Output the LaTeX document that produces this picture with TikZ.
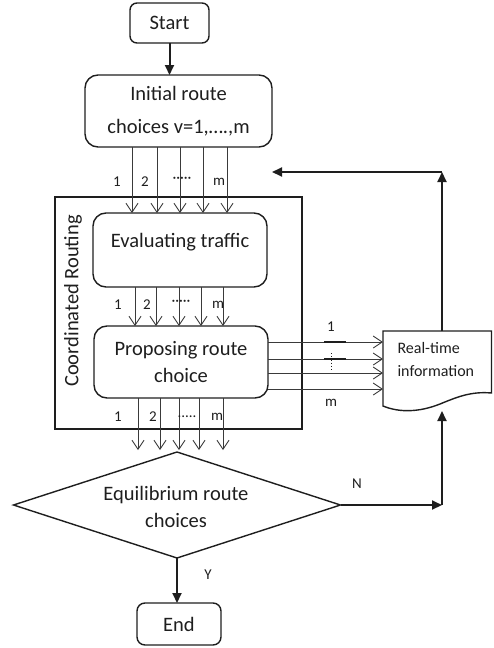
\documentclass[tikz,border=0pt]{standalone}
\usepackage{fontspec}
\setmainfont{Carlito}
\usetikzlibrary{arrows.meta,shapes.geometric,calc}
\definecolor{ink}{HTML}{1E1E1E}
\definecolor{wire}{HTML}{3A3A3A}
\begin{document}
\begin{tikzpicture}[x=1pt,y=-1pt,
  box/.style={draw=ink, line width=1.4pt, rounded corners=13pt, inner sep=0pt, outer sep=0pt},
  bigtxt/.style={font=\fontsize{20.5}{27}\selectfont, text=ink, align=center},
  lbl/.style={font=\fontsize{15}{18}\selectfont, text=ink, inner sep=0pt},
  flow/.style={draw=ink, line width=2pt, -{Triangle[length=10pt,width=9pt]}},
  route/.style={draw=wire, line width=0.9pt, -{Straight Barb[length=9pt,width=12pt]}}]
\useasboundingbox (0,0) rectangle (493,648);

% process boxes
\node[box, rounded corners=7pt, minimum width=79pt, minimum height=40pt, bigtxt] (start) at (169.5,23) {Start};
\node[box, minimum width=187pt, minimum height=72pt, bigtxt] (init) at (178.5,111) {Initial route\\[6pt]choices v=1,….,m};
\node[draw=ink, line width=1.4pt, minimum width=247pt, minimum height=232pt, inner sep=0pt, outer sep=0pt] (coord) at (178.5,313) {};
\node[bigtxt, rotate=90] (coordtxt) at (73,301) {Coordinated Routing};
\node[box, minimum width=174pt, minimum height=74pt] (eval) at (180,250) {};
\node[bigtxt] (evaltxt) at (180,242) {Evaluating traffic};
\node[box, minimum width=174pt, minimum height=72pt, bigtxt] (prop) at (181,362) {Proposing route\\choice};
\node[diamond, draw=ink, line width=1.4pt, minimum width=327pt, minimum height=106pt, inner sep=0pt, outer sep=0pt] (dec) at (177,505) {};
\node[bigtxt] (dectxt) at (176,507) {Equilibrium route\\choices};
\node[box, rounded corners=8pt, minimum width=84pt, minimum height=42pt, bigtxt] (end) at (179,624) {End};

% document shape
\draw[draw=ink, line width=1.4pt] (383,331) coordinate (docnw) -- (491.5,331) -- (491.5,393)
  .. controls (470,391) and (455,398) .. (440,404)
  .. controls (420,412) and (400,413) .. (383,406) -- cycle;
\node[font=\fontsize{16}{23}\selectfont, text=ink, align=left, anchor=west] (doc) at (394,359.5) {Real-time\\information};

% main flow
\draw[flow] (start.south) -- (start.south |- init.north);
\draw[flow] (dec.south) -- (dec.south |- end.north);

% route channels: initial -> evaluating
\foreach \x in {132,157,180,203,227}
  \draw[route] (init.south -| \x,0) -- (eval.north -| \x,0);
\node[lbl] (a1) at (117,182) {1};
\node[lbl] (a2) at (145,182) {2};
\node[lbl] (a3) at (182,180) {·····};
\node[lbl] (am) at (219,182) {m};

% evaluating -> proposing
\foreach \x in {135,156,179,201,223}
  \draw[route] (eval.south -| \x,0) -- (prop.north -| \x,0);
\node[lbl] (b1) at (118,305) {1};
\node[lbl] (b2) at (147,305) {2};
\node[lbl] (b3) at (181,303) {·····};
\node[lbl] (bm) at (218,305) {m};

% proposing -> decision
\coordinate (dtop) at (0,450);
\foreach \x in {138,160,179,199,223}
  \draw[route] (prop.south -| \x,0) -- (dtop -| \x,0);
\node[lbl] (c1l) at (118,417) {1};
\node[lbl] (c2l) at (153,417) {2};
\node[lbl] (c3l) at (187,417) {.....};
\node[lbl] (cml) at (217,417) {m};

% proposing -> real-time information
\foreach \y in {342,359,373,389}
  \draw[route] (prop.east |- 0,\y) -- (docnw |- 0,\y);
\draw[ink, line width=2pt] (324,342) -- (346,342);
\draw[ink, line width=2pt] (324,359) -- (346,359);
\draw[ink, line width=1pt, dash pattern=on 1.2pt off 2pt] (331,353) -- (331,372);
\node[lbl] (d1) at (331,327) {1};
\node[lbl] (dm) at (331,403) {m};

% feedback loop
\coordinate (k1) at (442,505);
\coordinate (k2) at (442,172);
\coordinate (docs) at (442,411);
\coordinate (docn) at (442,331);
\draw[flow] (dec.east) -- (k1);
\draw[flow] (k1) -- (docs);
\draw[flow] (docn) -- (k2);
\draw[flow] (k2) -- (init.east |- k2);
\node[lbl] (nlab) at (357,484) {N};
\node[lbl] (ylab) at (208,575) {Y};
\end{tikzpicture}
\end{document}
